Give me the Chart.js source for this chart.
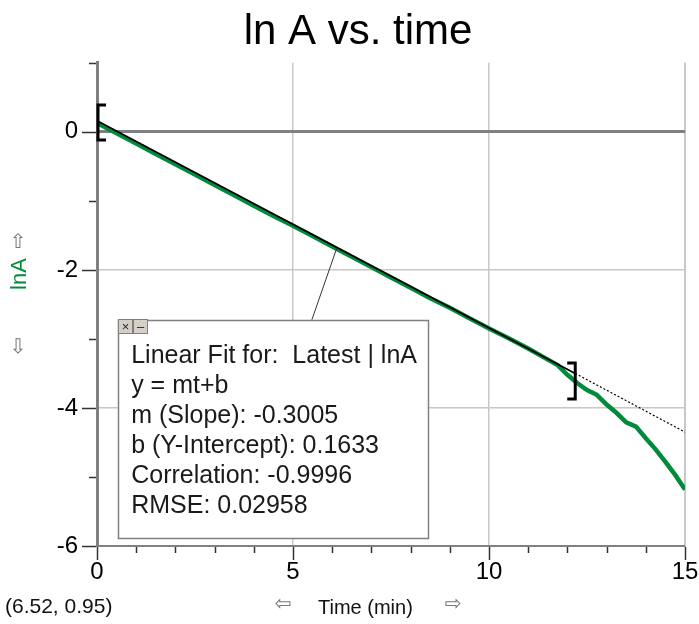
<!DOCTYPE html>
<html>
<head>
<meta charset="utf-8">
<script src="https://cdn.jsdelivr.net/npm/chart.js@4.4.1/dist/chart.umd.min.js"></script>
<style>
  html, body { margin: 0; padding: 0; background: #fff; }
  #wrap { width: 699px; height: 624px; }
</style>
</head>
<body>
<div id="wrap"><canvas id="lnA-chart" width="699" height="624"></canvas></div>
<script>
// ---- data ---------------------------------------------------------------
const timeMin = [0, 0.5, 1, 1.5, 2, 2.5, 3, 3.5, 4, 4.5, 5, 5.5, 6, 6.5, 7, 7.5,
  8, 8.5, 9, 9.5, 10, 10.5, 11, 11.5, 11.75, 12, 12.25, 12.5, 12.75, 13, 13.25,
  13.5, 13.75, 14, 14.25, 14.5, 14.75, 15];
const lnA = [0.13, -0.02, -0.17, -0.32, -0.47, -0.62, -0.77, -0.92, -1.07, -1.22,
  -1.36, -1.51, -1.66, -1.81, -1.96, -2.11, -2.26, -2.41, -2.55, -2.70, -2.85,
  -2.99, -3.14, -3.30, -3.38, -3.52, -3.64, -3.74, -3.81, -3.95, -4.07, -4.21,
  -4.27, -4.44, -4.60, -4.78, -4.97, -5.18];

// linear fit line: solid over the selected range, dotted beyond it
const fitTime = [0, 12.2, 15];
const fitLnA = [0.16, -3.50, -4.35];

// selection brackets [ ... ]
const bracketTime = [0, 12.2];
const bracketTop = [0.39, -3.35];
const bracketBottom = [-0.12, -3.87];

const xLabelValues = [0, 5, 10, 15];
const yLabelValues = [0, -2, -4, -6];

const fitLines = [
  'Linear Fit for:  Latest | lnA',
  'y = mt+b',
  'm (Slope): -0.3005',
  'b (Y-Intercept): 0.1633',
  'Correlation: -0.9996',
  'RMSE: 0.02958'
];

// ---- style ----------------------------------------------------------------
const GREEN = '#008a3c', AXIS = '#808080', GRID = '#c8c8c8', INK = '#000';
const SANS = '"Liberation Sans", Arial, sans-serif';
const SYM = '"DejaVu Sans", sans-serif';

// hand-drawn bits: tick marks, brackets, fit box, axis captions
const extras = {
  id: 'extras',
  afterDraw(c) {
    const { ctx, chartArea: a } = c;
    const xs = c.scales.x, ys = c.scales.y;
    ctx.save();

    // tick marks (long at labelled values)
    ctx.strokeStyle = '#333'; ctx.lineWidth = 1.5;
    ys.ticks.forEach(t => {
      const py = Math.round(ys.getPixelForValue(t.value)) + 0.5;
      const len = yLabelValues.includes(t.value) ? 15 : 8;
      ctx.beginPath(); ctx.moveTo(a.left - len, py); ctx.lineTo(a.left - 1, py); ctx.stroke();
    });
    xs.ticks.forEach(t => {
      const px = Math.round(xs.getPixelForValue(t.value)) + 0.5;
      const len = xLabelValues.includes(t.value) ? 14 : 7;
      ctx.beginPath(); ctx.moveTo(px, a.bottom + 1); ctx.lineTo(px, a.bottom + len); ctx.stroke();
    });

    // brackets
    ctx.strokeStyle = INK; ctx.lineWidth = 3;
    bracketTime.forEach((t, i) => {
      const px = xs.getPixelForValue(t);
      const top = ys.getPixelForValue(bracketTop[i]);
      const bot = ys.getPixelForValue(bracketBottom[i]);
      const dir = i === 0 ? 1 : -1;
      const x0 = px + (i === 0 ? 1 : 0);
      ctx.beginPath();
      ctx.moveTo(x0 + dir * 8, top); ctx.lineTo(x0, top); ctx.lineTo(x0, bot); ctx.lineTo(x0 + dir * 8, bot);
      ctx.stroke();
    });

    // fit info box with leader line
    const bl = xs.getPixelForValue(0.54), br = xs.getPixelForValue(8.44);
    const bt = ys.getPixelForValue(-2.725), bb = ys.getPixelForValue(-5.884);
    ctx.strokeStyle = '#333'; ctx.lineWidth = 1;
    ctx.beginPath();
    ctx.moveTo(xs.getPixelForValue(5.48), bt);
    ctx.lineTo(xs.getPixelForValue(6.12), ys.getPixelForValue(-1.68));
    ctx.stroke();

    ctx.fillStyle = '#fff';
    ctx.fillRect(bl, bt, br - bl, bb - bt);
    ctx.strokeStyle = AXIS; ctx.lineWidth = 1.5;
    ctx.strokeRect(Math.round(bl) + 0.5, Math.round(bt) + 0.5, Math.round(br - bl), Math.round(bb - bt));

    // close / minimise buttons
    [['×', 0], ['–', 15]].forEach(([g, dx]) => {
      const x = Math.round(bl) + dx, y = Math.round(bt) - 1;
      ctx.fillStyle = '#d4d0c8'; ctx.fillRect(x, y, 15, 15);
      ctx.strokeStyle = '#808080'; ctx.lineWidth = 1;
      ctx.strokeRect(x + 0.5, y + 0.5, 14, 14);
      ctx.fillStyle = '#222'; ctx.font = '13px ' + SANS;
      ctx.textAlign = 'center'; ctx.textBaseline = 'middle';
      ctx.fillText(g, x + 7.5, y + 8);
    });

    ctx.fillStyle = '#1a1a1a'; ctx.font = '25px ' + SANS;
    ctx.textAlign = 'left'; ctx.textBaseline = 'alphabetic';
    fitLines.forEach((s, i) => ctx.fillText(s, bl + 13, bt + 43 + i * 30));

    // x-axis caption with scroll arrows
    ctx.textBaseline = 'middle';
    ctx.fillStyle = '#111'; ctx.font = '20px ' + SANS;
    ctx.fillText('Time (min)', 318, 608);
    ctx.font = '21px ' + SANS;
    ctx.fillText('(6.52, 0.95)', 5, 607);
    ctx.fillStyle = '#777'; ctx.font = '20px ' + SYM; ctx.textAlign = 'center';
    ctx.fillText('⇦', 283, 605);
    ctx.fillText('⇨', 453, 605);

    // y-axis caption with arrows
    ctx.fillText('⇧', 18, 243);
    ctx.fillText('⇩', 18, 348);
    ctx.save();
    ctx.translate(20, 274); ctx.rotate(-Math.PI / 2);
    ctx.fillStyle = GREEN; ctx.font = '22px ' + SANS;
    ctx.fillText('lnA', 0, 0);
    ctx.restore();

    ctx.restore();
  }
};

const pts = (xsArr, ysArr) => xsArr.map((x, i) => ({ x, y: ysArr[i] }));

new Chart(document.getElementById('lnA-chart'), {
  type: 'scatter',
  data: {
    datasets: [
      { label: 'fit', data: pts(fitTime.slice(0, 2), fitLnA.slice(0, 2)), showLine: true,
        borderColor: INK, borderWidth: 1.8, pointRadius: 0, order: 0 },
      { label: 'fit (extrapolated)', data: pts(fitTime.slice(1), fitLnA.slice(1)), showLine: true,
        borderColor: INK, borderWidth: 1.2, borderDash: [2, 2], pointRadius: 0, order: 1 },
      { label: 'lnA', data: pts(timeMin, lnA), showLine: true,
        borderColor: GREEN, borderWidth: 4.5, pointRadius: 0, order: 2 }
    ]
  },
  options: {
    responsive: false, animation: false,
    layout: { padding: { left: 31, right: 14, top: 0, bottom: 0 } },
    plugins: {
      legend: { display: false }, tooltip: { enabled: false },
      title: { display: true, text: 'ln A vs. time', color: INK,
               font: { family: SANS, size: 42, weight: 'normal' }, padding: { top: 7, bottom: 5.4 } }
    },
    scales: {
      x: {
        type: 'linear', min: 0, max: 15,
        // fixed band height; the end labels may hang past the plot edges
        afterFit: s => { s.height = 78; s.paddingLeft = 0; s.paddingRight = 0; },
        ticks: { stepSize: 1, autoSkip: false, maxRotation: 0, padding: 12, color: INK,
                 font: { family: SANS, size: 24 },
                 callback: v => xLabelValues.includes(v) ? String(v) : '' },
        grid: { drawTicks: false,
                color: ctx => (ctx.tick && ctx.tick.value > 0 && xLabelValues.includes(ctx.tick.value)) ? GRID : 'rgba(0,0,0,0)',
                lineWidth: ctx => (ctx.tick && ctx.tick.value === 15) ? 2 : 1.5 },
        border: { display: true, color: AXIS, width: 2 }
      },
      y: {
        min: -6, max: 1,
        afterFit: s => { s.width = 66; },
        ticks: { stepSize: 1, autoSkip: false, padding: 19, color: INK,
                 font: { family: SANS, size: 24 },
                 callback: v => yLabelValues.includes(v) ? String(v) : '' },
        grid: { drawTicks: false,
                color: ctx => {
                  const v = ctx.tick && ctx.tick.value;
                  if (v === 0) return AXIS;
                  return (v === -2 || v === -4) ? GRID : 'rgba(0,0,0,0)';
                },
                lineWidth: ctx => (ctx.tick && ctx.tick.value === 0) ? 3 : 1.5 },
        border: { display: true, color: AXIS, width: 3 }
      }
    }
  },
  plugins: [extras]
});
</script>
</body>
</html>
